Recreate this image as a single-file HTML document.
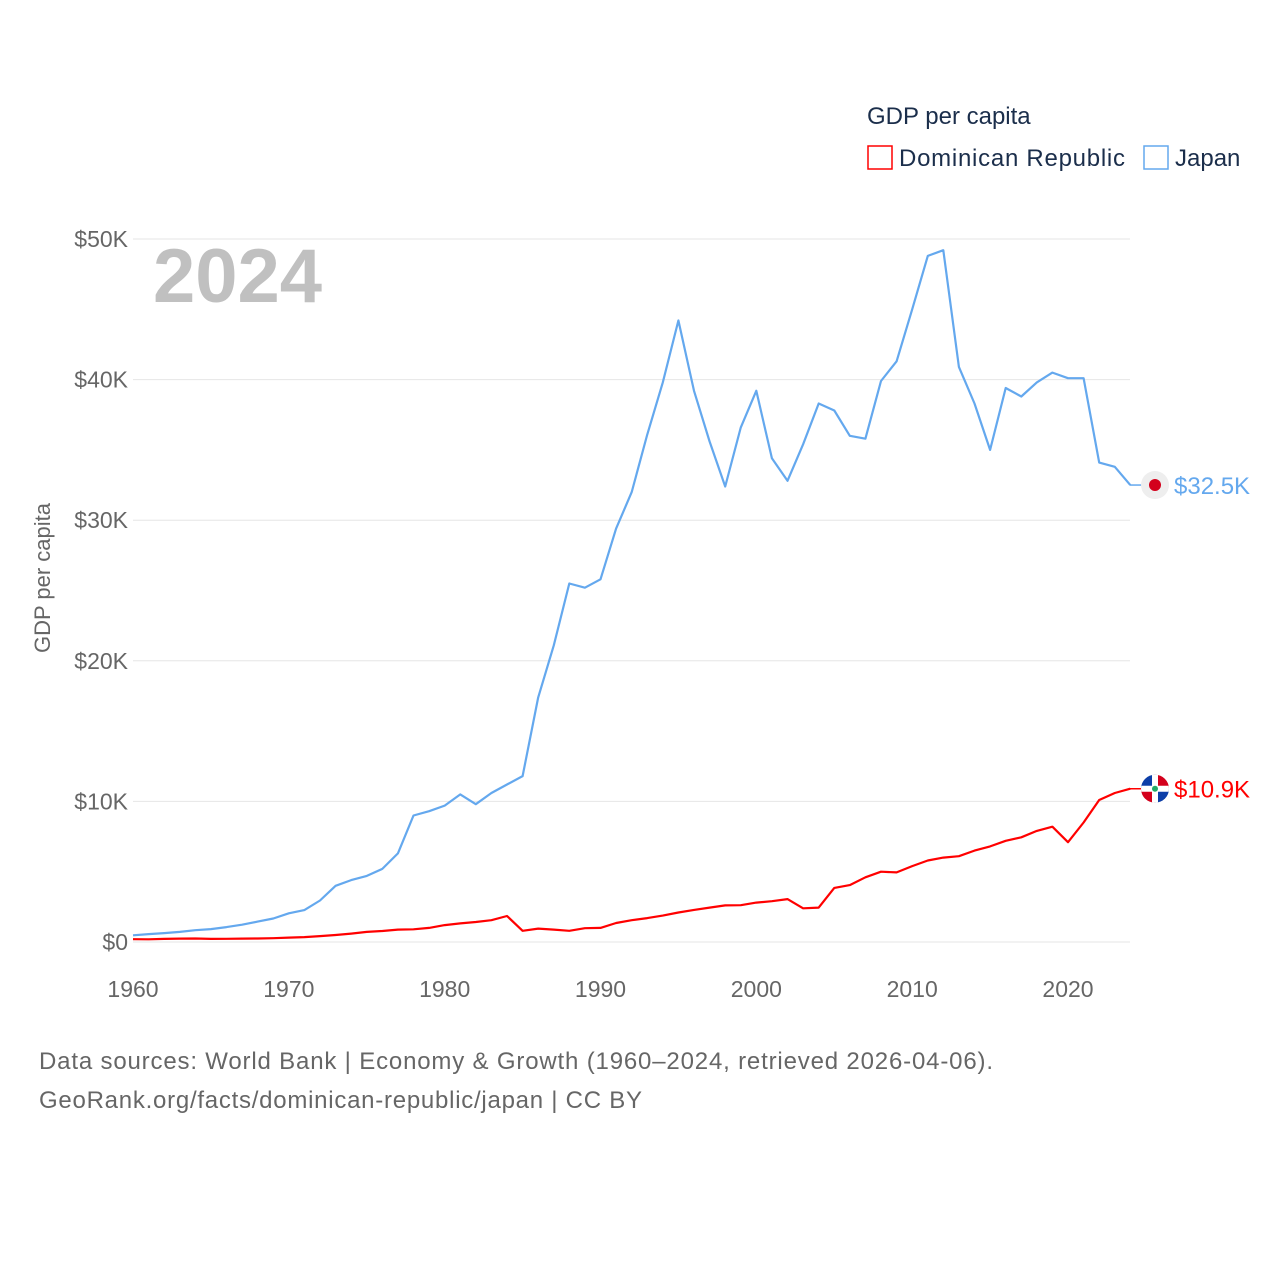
<!DOCTYPE html>
<html><head><meta charset="utf-8"><style>
body{margin:0;background:#fff;font-family:"Liberation Sans",sans-serif;}
svg text{font-family:"Liberation Sans",sans-serif;}
</style></head><body>
<svg width="1280" height="1280" viewBox="0 0 1280 1280">
<defs><clipPath id="flagclip"><circle id="fc" cx="1155" cy="0" r="14"/></clipPath></defs>
<g id="grid"></g>
<g id="axes"></g>
<text x="153" y="302" font-size="76" font-weight="bold" fill="#c0c0c0">2024</text>
<text transform="translate(50,578) rotate(-90)" text-anchor="middle" font-size="22" fill="#666">GDP per capita</text>
<text x="867" y="124" font-size="24" fill="#1b2e4b">GDP per capita</text>
<g><rect x="868" y="146" width="24" height="23" fill="none" stroke="#f00" stroke-width="1.5"/><text x="899" y="166" font-size="24" fill="#1b2e4b" textLength="226">Dominican Republic</text></g>
<g><rect x="1144" y="146" width="24" height="23" fill="none" stroke="#64a8ee" stroke-width="1.5"/><text x="1175" y="166" font-size="24" fill="#1b2e4b">Japan</text></g>
<g id="series"></g>
<text x="39" y="1069" font-size="24" fill="#666" textLength="954">Data sources: World Bank | Economy &amp; Growth (1960–2024, retrieved 2026-04-06).</text>
<text x="39" y="1108" font-size="24" fill="#666" textLength="603">GeoRank.org/facts/dominican-republic/japan | CC BY</text>
</svg>
<script>
const years=[];for(let y=1960;y<=2024;y++)years.push(y);
const japan=[0.48,0.56,0.63,0.72,0.84,0.92,1.06,1.23,1.45,1.67,2.04,2.27,2.95,4.0,4.4,4.7,5.2,6.3,9.0,9.3,9.7,10.5,9.8,10.6,11.2,11.8,17.4,21.1,25.5,25.2,25.8,29.4,32.0,36.1,39.8,44.2,39.2,35.6,32.4,36.6,39.2,34.4,32.8,35.4,38.3,37.8,36.0,35.8,39.9,41.3,45.0,48.8,49.2,40.9,38.3,35.0,39.4,38.8,39.8,40.5,40.1,40.1,34.1,33.8,32.5];
const dominican=[0.2,0.19,0.22,0.24,0.25,0.22,0.23,0.24,0.25,0.27,0.31,0.35,0.42,0.5,0.6,0.72,0.78,0.88,0.9,1.0,1.2,1.32,1.42,1.55,1.85,0.8,0.95,0.88,0.8,0.98,1.0,1.35,1.55,1.7,1.88,2.1,2.28,2.45,2.6,2.62,2.8,2.9,3.05,2.4,2.45,3.85,4.05,4.6,5.0,4.95,5.4,5.8,6.0,6.1,6.5,6.8,7.2,7.45,7.9,8.2,7.1,8.5,10.1,10.6,10.9];
const yTicks=[0,10,20,30,40,50];
const yTickLabels=["$0","$10K","$20K","$30K","$40K","$50K"];
const xTicks=[1960,1970,1980,1990,2000,2010,2020];
const NS="http://www.w3.org/2000/svg";
const X=y=>133+(y-1960)*(1068-133)/60;
const Y=v=>942-v*(942-239)/50;
function mk(t,a,p){const e=document.createElementNS(NS,t);for(const k in a)e.setAttribute(k,a[k]);p.appendChild(e);return e;}
const grid=document.getElementById('grid'),axes=document.getElementById('axes'),ser=document.getElementById('series');
yTicks.forEach((v,i)=>{
 const l=mk('line',{x1:133,x2:1130,y1:Y(v),y2:Y(v),stroke:'#e6e6e6','stroke-width':1},grid);
 
 
 const t=mk('text',{x:128,y:Y(v)+8,'text-anchor':'end','font-size':23,fill:'#666'},axes);
 t.textContent=yTickLabels[i];
 
 
});
xTicks.forEach(yr=>{
 const t=mk('text',{x:X(yr),y:997,'text-anchor':'middle','font-size':23,fill:'#666'},axes);
 t.textContent=yr;
 
 
});
function line(data,color,name){
 const d=data.map((v,i)=>(i?'L':'M')+X(years[i]).toFixed(1)+','+Y(v).toFixed(1)).join('');
 const p=mk('path',{d:d,fill:'none',stroke:color,'stroke-width':2.2,'stroke-linejoin':'round'},ser);
 
 
}
line(japan,'#64a8ee','japan-line');
line(dominican,'#f00','dominican-line');
function endLabel(v,color,name,flag){
 const y=Y(v);
 const g=mk('g',{},ser);
 
 
 mk('line',{x1:1130,x2:1142,y1:y,y2:y,stroke:color,'stroke-width':1.5},g);
 mk('circle',{cx:1155,cy:y,r:14,fill:'#eee'},g);
 if(flag==='jp'){mk('circle',{cx:1155,cy:y,r:6,fill:'#d3001c'},g);}
 else{
  document.getElementById('fc').setAttribute('cy',y);
  const f=mk('g',{'clip-path':'url(#flagclip)'},g);
  mk('rect',{x:1141,y:y-14,width:14,height:14,fill:'#0c3ea8'},f);
  mk('rect',{x:1155,y:y-14,width:14,height:14,fill:'#d4001c'},f);
  mk('rect',{x:1141,y:y,width:14,height:14,fill:'#d4001c'},f);
  mk('rect',{x:1155,y:y,width:14,height:14,fill:'#0c3ea8'},f);
  mk('rect',{x:1152,y:y-14,width:6,height:28,fill:'#fff'},f);
  mk('rect',{x:1141,y:y-3,width:28,height:6,fill:'#fff'},f);
  mk('circle',{cx:1155,cy:y,r:3,fill:'#2a6'},f);
 }
 const t=mk('text',{x:1174,y:y+9,'font-size':24,fill:color},g);
 t.textContent='$'+v.toFixed(1)+'K';
}
endLabel(japan[japan.length-1],'#64a8ee','japan-end-label','jp');
endLabel(dominican[dominican.length-1],'#f00','dominican-end-label','do');
</script>
</body></html>
